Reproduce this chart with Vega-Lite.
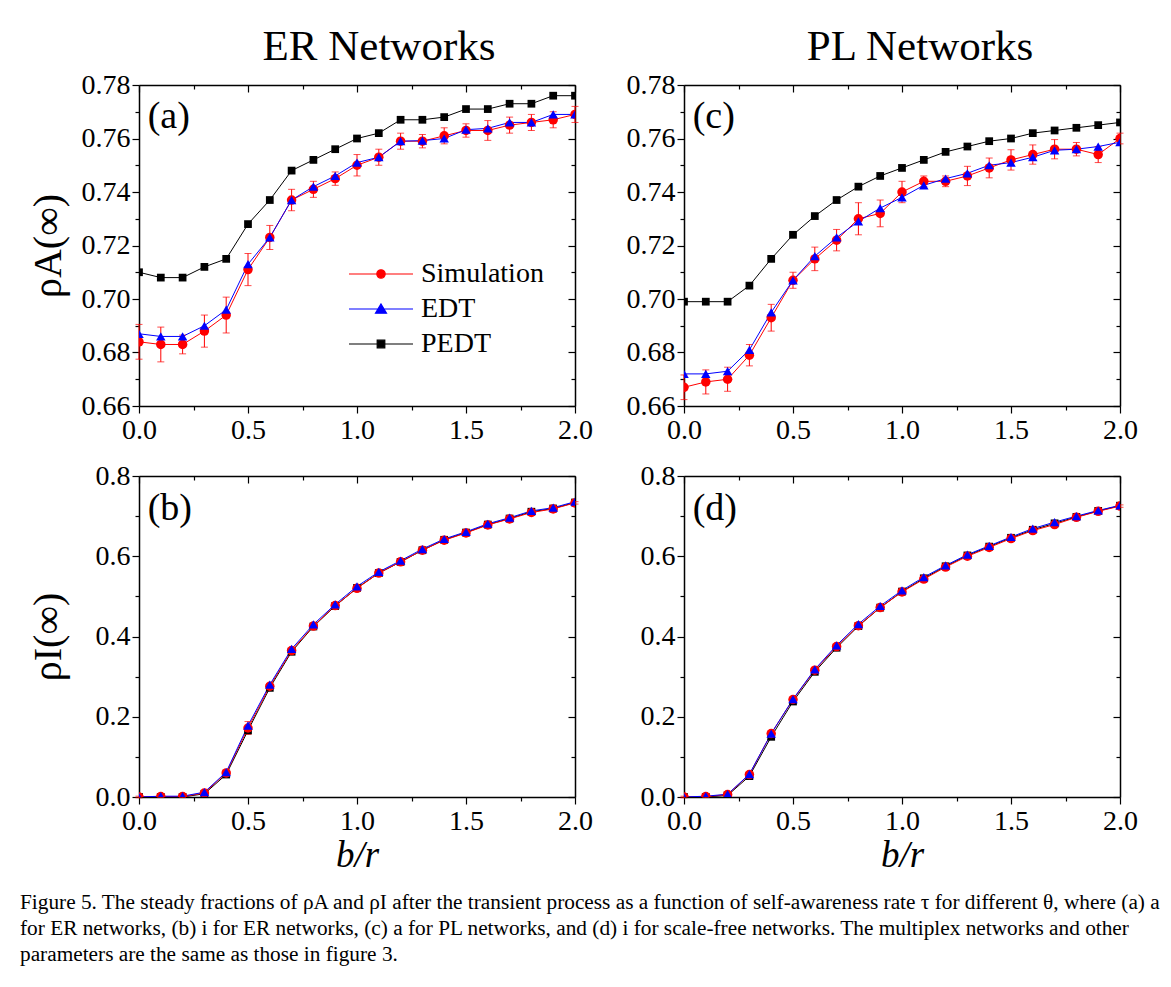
{
"$schema": "https://vega.github.io/schema/vega-lite/v6.json",
"background": "white",
"padding": {"left": 20, "top": 26, "right": 10, "bottom": 10},
"config": {
  "font": "Liberation Serif",
  "view": {"stroke": null},
  "axis": {"grid": false, "domainColor": "black", "domainWidth": 1.5, "tickColor": "black", "tickWidth": 1.2, "labelFont": "Liberation Serif", "labelFontSize": 28, "labelColor": "black", "titleFont": "Liberation Serif", "titleColor": "black", "titleFontWeight": "normal", "labelOverlap": false, "labelFlush": false, "labelBound": false},
  "title": {"font": "Liberation Serif", "color": "black", "fontWeight": "normal"}
},
"title": {"text": ["Figure 5. The steady fractions of ρA and ρI after the transient process as a function of self-awareness rate τ for different θ, where (a) a", "for ER networks, (b) i for ER networks, (c) a for PL networks, and (d) i for scale-free networks. The multiplex networks and other", "parameters are the same as those in figure 3."], "orient": "bottom", "anchor": "start", "fontSize": 21.3, "lineHeight": 26, "offset": 19, "dx": -8},
"datasets": {"d": [
{"p":"a","s":"PEDT","x":0,"y":0.710},{"p":"a","s":"PEDT","x":0.1,"y":0.708},{"p":"a","s":"PEDT","x":0.2,"y":0.708},{"p":"a","s":"PEDT","x":0.3,"y":0.712},{"p":"a","s":"PEDT","x":0.4,"y":0.715},{"p":"a","s":"PEDT","x":0.5,"y":0.728},{"p":"a","s":"PEDT","x":0.6,"y":0.737},{"p":"a","s":"PEDT","x":0.7,"y":0.748},{"p":"a","s":"PEDT","x":0.8,"y":0.752},{"p":"a","s":"PEDT","x":0.9,"y":0.756},{"p":"a","s":"PEDT","x":1.0,"y":0.760},{"p":"a","s":"PEDT","x":1.1,"y":0.762},{"p":"a","s":"PEDT","x":1.2,"y":0.767},{"p":"a","s":"PEDT","x":1.3,"y":0.767},{"p":"a","s":"PEDT","x":1.4,"y":0.768},{"p":"a","s":"PEDT","x":1.5,"y":0.771},{"p":"a","s":"PEDT","x":1.6,"y":0.771},{"p":"a","s":"PEDT","x":1.7,"y":0.773},{"p":"a","s":"PEDT","x":1.8,"y":0.773},{"p":"a","s":"PEDT","x":1.9,"y":0.776},{"p":"a","s":"PEDT","x":2.0,"y":0.776},
{"p":"a","s":"Simulation","x":0,"y":0.684,"e":0.0065},{"p":"a","s":"Simulation","x":0.1,"y":0.683,"e":0.0065},{"p":"a","s":"Simulation","x":0.2,"y":0.683,"e":0.0035},{"p":"a","s":"Simulation","x":0.3,"y":0.688,"e":0.006},{"p":"a","s":"Simulation","x":0.4,"y":0.694,"e":0.0067},{"p":"a","s":"Simulation","x":0.5,"y":0.711,"e":0.006},{"p":"a","s":"Simulation","x":0.6,"y":0.723,"e":0.0045},{"p":"a","s":"Simulation","x":0.7,"y":0.737,"e":0.004},{"p":"a","s":"Simulation","x":0.8,"y":0.741,"e":0.003},{"p":"a","s":"Simulation","x":0.9,"y":0.745,"e":0.0025},{"p":"a","s":"Simulation","x":1.0,"y":0.750,"e":0.004},{"p":"a","s":"Simulation","x":1.1,"y":0.753,"e":0.003},{"p":"a","s":"Simulation","x":1.2,"y":0.759,"e":0.003},{"p":"a","s":"Simulation","x":1.3,"y":0.759,"e":0.0025},{"p":"a","s":"Simulation","x":1.4,"y":0.761,"e":0.003},{"p":"a","s":"Simulation","x":1.5,"y":0.763,"e":0.0025},{"p":"a","s":"Simulation","x":1.6,"y":0.763,"e":0.0037},{"p":"a","s":"Simulation","x":1.7,"y":0.765,"e":0.003},{"p":"a","s":"Simulation","x":1.8,"y":0.766,"e":0.003},{"p":"a","s":"Simulation","x":1.9,"y":0.767,"e":0.003},{"p":"a","s":"Simulation","x":2.0,"y":0.769,"e":0.003},
{"p":"a","s":"EDT","x":0,"y":0.687},{"p":"a","s":"EDT","x":0.1,"y":0.686},{"p":"a","s":"EDT","x":0.2,"y":0.686},{"p":"a","s":"EDT","x":0.3,"y":0.690},{"p":"a","s":"EDT","x":0.4,"y":0.696},{"p":"a","s":"EDT","x":0.5,"y":0.713},{"p":"a","s":"EDT","x":0.6,"y":0.723},{"p":"a","s":"EDT","x":0.7,"y":0.737},{"p":"a","s":"EDT","x":0.8,"y":0.742},{"p":"a","s":"EDT","x":0.9,"y":0.746},{"p":"a","s":"EDT","x":1.0,"y":0.751},{"p":"a","s":"EDT","x":1.1,"y":0.753},{"p":"a","s":"EDT","x":1.2,"y":0.759},{"p":"a","s":"EDT","x":1.3,"y":0.7592},{"p":"a","s":"EDT","x":1.4,"y":0.760},{"p":"a","s":"EDT","x":1.5,"y":0.7633},{"p":"a","s":"EDT","x":1.6,"y":0.7638},{"p":"a","s":"EDT","x":1.7,"y":0.766},{"p":"a","s":"EDT","x":1.8,"y":0.766},{"p":"a","s":"EDT","x":1.9,"y":0.769},{"p":"a","s":"EDT","x":2.0,"y":0.769},
{"p":"c","s":"PEDT","x":0,"y":0.699},{"p":"c","s":"PEDT","x":0.1,"y":0.699},{"p":"c","s":"PEDT","x":0.2,"y":0.699},{"p":"c","s":"PEDT","x":0.3,"y":0.705},{"p":"c","s":"PEDT","x":0.4,"y":0.715},{"p":"c","s":"PEDT","x":0.5,"y":0.724},{"p":"c","s":"PEDT","x":0.6,"y":0.731},{"p":"c","s":"PEDT","x":0.7,"y":0.737},{"p":"c","s":"PEDT","x":0.8,"y":0.742},{"p":"c","s":"PEDT","x":0.9,"y":0.746},{"p":"c","s":"PEDT","x":1.0,"y":0.749},{"p":"c","s":"PEDT","x":1.1,"y":0.752},{"p":"c","s":"PEDT","x":1.2,"y":0.755},{"p":"c","s":"PEDT","x":1.3,"y":0.757},{"p":"c","s":"PEDT","x":1.4,"y":0.759},{"p":"c","s":"PEDT","x":1.5,"y":0.760},{"p":"c","s":"PEDT","x":1.6,"y":0.762},{"p":"c","s":"PEDT","x":1.7,"y":0.763},{"p":"c","s":"PEDT","x":1.8,"y":0.764},{"p":"c","s":"PEDT","x":1.9,"y":0.765},{"p":"c","s":"PEDT","x":2.0,"y":0.766},
{"p":"c","s":"Simulation","x":0,"y":0.667,"e":0.0046},{"p":"c","s":"Simulation","x":0.1,"y":0.669,"e":0.0045},{"p":"c","s":"Simulation","x":0.2,"y":0.670,"e":0.0045},{"p":"c","s":"Simulation","x":0.3,"y":0.679,"e":0.004},{"p":"c","s":"Simulation","x":0.4,"y":0.693,"e":0.005},{"p":"c","s":"Simulation","x":0.5,"y":0.707,"e":0.003},{"p":"c","s":"Simulation","x":0.6,"y":0.715,"e":0.0044},{"p":"c","s":"Simulation","x":0.7,"y":0.722,"e":0.004},{"p":"c","s":"Simulation","x":0.8,"y":0.730,"e":0.006},{"p":"c","s":"Simulation","x":0.9,"y":0.732,"e":0.005},{"p":"c","s":"Simulation","x":1.0,"y":0.740,"e":0.004},{"p":"c","s":"Simulation","x":1.1,"y":0.744,"e":0.002},{"p":"c","s":"Simulation","x":1.2,"y":0.744,"e":0.002},{"p":"c","s":"Simulation","x":1.3,"y":0.746,"e":0.0036},{"p":"c","s":"Simulation","x":1.4,"y":0.749,"e":0.0037},{"p":"c","s":"Simulation","x":1.5,"y":0.752,"e":0.0038},{"p":"c","s":"Simulation","x":1.6,"y":0.754,"e":0.0036},{"p":"c","s":"Simulation","x":1.7,"y":0.756,"e":0.0036},{"p":"c","s":"Simulation","x":1.8,"y":0.756,"e":0.0025},{"p":"c","s":"Simulation","x":1.9,"y":0.754,"e":0.003},{"p":"c","s":"Simulation","x":2.0,"y":0.760,"e":0.002},
{"p":"c","s":"EDT","x":0,"y":0.672},{"p":"c","s":"EDT","x":0.1,"y":0.672},{"p":"c","s":"EDT","x":0.2,"y":0.673},{"p":"c","s":"EDT","x":0.3,"y":0.681},{"p":"c","s":"EDT","x":0.4,"y":0.695},{"p":"c","s":"EDT","x":0.5,"y":0.707},{"p":"c","s":"EDT","x":0.6,"y":0.716},{"p":"c","s":"EDT","x":0.7,"y":0.723},{"p":"c","s":"EDT","x":0.8,"y":0.729},{"p":"c","s":"EDT","x":0.9,"y":0.734},{"p":"c","s":"EDT","x":1.0,"y":0.738},{"p":"c","s":"EDT","x":1.1,"y":0.7425},{"p":"c","s":"EDT","x":1.2,"y":0.745},{"p":"c","s":"EDT","x":1.3,"y":0.747},{"p":"c","s":"EDT","x":1.4,"y":0.750},{"p":"c","s":"EDT","x":1.5,"y":0.751},{"p":"c","s":"EDT","x":1.6,"y":0.753},{"p":"c","s":"EDT","x":1.7,"y":0.7556},{"p":"c","s":"EDT","x":1.8,"y":0.756},{"p":"c","s":"EDT","x":1.9,"y":0.757},{"p":"c","s":"EDT","x":2.0,"y":0.7586},
{"p":"b","s":"PEDT","x":0,"y":0},{"p":"b","s":"PEDT","x":0.1,"y":0},{"p":"b","s":"PEDT","x":0.2,"y":0},{"p":"b","s":"PEDT","x":0.3,"y":0.008},{"p":"b","s":"PEDT","x":0.4,"y":0.056},{"p":"b","s":"PEDT","x":0.5,"y":0.166},{"p":"b","s":"PEDT","x":0.6,"y":0.272},{"p":"b","s":"PEDT","x":0.7,"y":0.362},{"p":"b","s":"PEDT","x":0.8,"y":0.425},{"p":"b","s":"PEDT","x":0.9,"y":0.476},{"p":"b","s":"PEDT","x":1.0,"y":0.521},{"p":"b","s":"PEDT","x":1.1,"y":0.558},{"p":"b","s":"PEDT","x":1.2,"y":0.586},{"p":"b","s":"PEDT","x":1.3,"y":0.615},{"p":"b","s":"PEDT","x":1.4,"y":0.641},{"p":"b","s":"PEDT","x":1.5,"y":0.659},{"p":"b","s":"PEDT","x":1.6,"y":0.679},{"p":"b","s":"PEDT","x":1.7,"y":0.694},{"p":"b","s":"PEDT","x":1.8,"y":0.711},{"p":"b","s":"PEDT","x":1.9,"y":0.719},{"p":"b","s":"PEDT","x":2.0,"y":0.734},
{"p":"b","s":"Simulation","x":0,"y":0.0,"e":0.002},{"p":"b","s":"Simulation","x":0.1,"y":0.001,"e":0.002},{"p":"b","s":"Simulation","x":0.2,"y":0.001,"e":0.002},{"p":"b","s":"Simulation","x":0.3,"y":0.010,"e":0.004},{"p":"b","s":"Simulation","x":0.4,"y":0.060,"e":0.007},{"p":"b","s":"Simulation","x":0.5,"y":0.172,"e":0.016},{"p":"b","s":"Simulation","x":0.6,"y":0.276,"e":0.007},{"p":"b","s":"Simulation","x":0.7,"y":0.365,"e":0.004},{"p":"b","s":"Simulation","x":0.8,"y":0.426,"e":0.003},{"p":"b","s":"Simulation","x":0.9,"y":0.477,"e":0.003},{"p":"b","s":"Simulation","x":1.0,"y":0.520,"e":0.003},{"p":"b","s":"Simulation","x":1.1,"y":0.558,"e":0.003},{"p":"b","s":"Simulation","x":1.2,"y":0.586,"e":0.003},{"p":"b","s":"Simulation","x":1.3,"y":0.615,"e":0.003},{"p":"b","s":"Simulation","x":1.4,"y":0.640,"e":0.003},{"p":"b","s":"Simulation","x":1.5,"y":0.658,"e":0.003},{"p":"b","s":"Simulation","x":1.6,"y":0.678,"e":0.003},{"p":"b","s":"Simulation","x":1.7,"y":0.693,"e":0.003},{"p":"b","s":"Simulation","x":1.8,"y":0.709,"e":0.003},{"p":"b","s":"Simulation","x":1.9,"y":0.718,"e":0.003},{"p":"b","s":"Simulation","x":2.0,"y":0.733,"e":0.003},
{"p":"b","s":"EDT","x":0,"y":0.0},{"p":"b","s":"EDT","x":0.1,"y":0.002},{"p":"b","s":"EDT","x":0.2,"y":0.002},{"p":"b","s":"EDT","x":0.3,"y":0.012},{"p":"b","s":"EDT","x":0.4,"y":0.062},{"p":"b","s":"EDT","x":0.5,"y":0.178},{"p":"b","s":"EDT","x":0.6,"y":0.280},{"p":"b","s":"EDT","x":0.7,"y":0.369},{"p":"b","s":"EDT","x":0.8,"y":0.430},{"p":"b","s":"EDT","x":0.9,"y":0.480},{"p":"b","s":"EDT","x":1.0,"y":0.525},{"p":"b","s":"EDT","x":1.1,"y":0.561},{"p":"b","s":"EDT","x":1.2,"y":0.589},{"p":"b","s":"EDT","x":1.3,"y":0.618},{"p":"b","s":"EDT","x":1.4,"y":0.643},{"p":"b","s":"EDT","x":1.5,"y":0.661},{"p":"b","s":"EDT","x":1.6,"y":0.681},{"p":"b","s":"EDT","x":1.7,"y":0.696},{"p":"b","s":"EDT","x":1.8,"y":0.713},{"p":"b","s":"EDT","x":1.9,"y":0.721},{"p":"b","s":"EDT","x":2.0,"y":0.736},
{"p":"d","s":"PEDT","x":0,"y":0},{"p":"d","s":"PEDT","x":0.1,"y":0},{"p":"d","s":"PEDT","x":0.2,"y":0.004},{"p":"d","s":"PEDT","x":0.3,"y":0.052},{"p":"d","s":"PEDT","x":0.4,"y":0.150},{"p":"d","s":"PEDT","x":0.5,"y":0.238},{"p":"d","s":"PEDT","x":0.6,"y":0.312},{"p":"d","s":"PEDT","x":0.7,"y":0.372},{"p":"d","s":"PEDT","x":0.8,"y":0.426},{"p":"d","s":"PEDT","x":0.9,"y":0.472},{"p":"d","s":"PEDT","x":1.0,"y":0.512},{"p":"d","s":"PEDT","x":1.1,"y":0.545},{"p":"d","s":"PEDT","x":1.2,"y":0.575},{"p":"d","s":"PEDT","x":1.3,"y":0.602},{"p":"d","s":"PEDT","x":1.4,"y":0.624},{"p":"d","s":"PEDT","x":1.5,"y":0.646},{"p":"d","s":"PEDT","x":1.6,"y":0.666},{"p":"d","s":"PEDT","x":1.7,"y":0.682},{"p":"d","s":"PEDT","x":1.8,"y":0.698},{"p":"d","s":"PEDT","x":1.9,"y":0.713},{"p":"d","s":"PEDT","x":2.0,"y":0.726},
{"p":"d","s":"Simulation","x":0,"y":0.0,"e":0.002},{"p":"d","s":"Simulation","x":0.1,"y":0.001,"e":0.002},{"p":"d","s":"Simulation","x":0.2,"y":0.006,"e":0.004},{"p":"d","s":"Simulation","x":0.3,"y":0.056,"e":0.004},{"p":"d","s":"Simulation","x":0.4,"y":0.158,"e":0.004},{"p":"d","s":"Simulation","x":0.5,"y":0.243,"e":0.004},{"p":"d","s":"Simulation","x":0.6,"y":0.316,"e":0.004},{"p":"d","s":"Simulation","x":0.7,"y":0.375,"e":0.004},{"p":"d","s":"Simulation","x":0.8,"y":0.427,"e":0.003},{"p":"d","s":"Simulation","x":0.9,"y":0.472,"e":0.003},{"p":"d","s":"Simulation","x":1.0,"y":0.511,"e":0.003},{"p":"d","s":"Simulation","x":1.1,"y":0.543,"e":0.003},{"p":"d","s":"Simulation","x":1.2,"y":0.573,"e":0.003},{"p":"d","s":"Simulation","x":1.3,"y":0.600,"e":0.003},{"p":"d","s":"Simulation","x":1.4,"y":0.622,"e":0.003},{"p":"d","s":"Simulation","x":1.5,"y":0.644,"e":0.003},{"p":"d","s":"Simulation","x":1.6,"y":0.664,"e":0.003},{"p":"d","s":"Simulation","x":1.7,"y":0.679,"e":0.003},{"p":"d","s":"Simulation","x":1.8,"y":0.697,"e":0.003},{"p":"d","s":"Simulation","x":1.9,"y":0.712,"e":0.003},{"p":"d","s":"Simulation","x":2.0,"y":0.725,"e":0.003},
{"p":"d","s":"EDT","x":0,"y":0.0},{"p":"d","s":"EDT","x":0.1,"y":0.002},{"p":"d","s":"EDT","x":0.2,"y":0.007},{"p":"d","s":"EDT","x":0.3,"y":0.057},{"p":"d","s":"EDT","x":0.4,"y":0.158},{"p":"d","s":"EDT","x":0.5,"y":0.244},{"p":"d","s":"EDT","x":0.6,"y":0.318},{"p":"d","s":"EDT","x":0.7,"y":0.378},{"p":"d","s":"EDT","x":0.8,"y":0.431},{"p":"d","s":"EDT","x":0.9,"y":0.476},{"p":"d","s":"EDT","x":1.0,"y":0.515},{"p":"d","s":"EDT","x":1.1,"y":0.548},{"p":"d","s":"EDT","x":1.2,"y":0.577},{"p":"d","s":"EDT","x":1.3,"y":0.604},{"p":"d","s":"EDT","x":1.4,"y":0.626},{"p":"d","s":"EDT","x":1.5,"y":0.648},{"p":"d","s":"EDT","x":1.6,"y":0.669},{"p":"d","s":"EDT","x":1.7,"y":0.685},{"p":"d","s":"EDT","x":1.8,"y":0.700},{"p":"d","s":"EDT","x":1.9,"y":0.714},{"p":"d","s":"EDT","x":2.0,"y":0.727}
]},
"data": {"name": "d"},
"columns": 2,
"spacing": {"row": 70, "column": 109},
"bounds": "flush",
"resolve": {"scale": {"color": "independent", "shape": "independent", "x": "independent", "y": "independent"}},
"concat": [
{
  "width": 436, "height": 321,
  "title": {"text": "ER Networks", "fontSize": 43, "offset": 2, "dx": 22},
  "transform": [{"filter": "datum.p === 'a'"}],
  "layer": [
    {"mark": {"type": "line", "strokeWidth": 1, "clip": true},
     "encoding": {
       "x": {"field": "x", "type": "quantitative", "scale": {"domain": [0, 2], "nice": false}, "axis": {"values": [0,0.25,0.5,0.75,1,1.25,1.5,1.75,2], "format": ".1f", "labelExpr": "abs(datum.value*2-round(datum.value*2))<0.001 ? datum.label : ''", "tickSize": {"condition": {"test": "abs(datum.value*2-round(datum.value*2))<0.001", "value": 7}, "value": 4}, "labelPadding": 3, "title": null}},
       "y": {"field": "y", "type": "quantitative", "scale": {"domain": [0.66, 0.78], "nice": false, "zero": false}, "axis": {"values": [0.66,0.67,0.68,0.69,0.70,0.71,0.72,0.73,0.74,0.75,0.76,0.77,0.78], "format": ".2f", "labelExpr": "round(datum.value*100)%2===0 ? datum.label : ''", "tickSize": {"condition": {"test": "round(datum.value*100)%2===0", "value": 7}, "value": 4}, "labelPadding": 2, "title": "ρA(∞)", "titleFontSize": 40, "titlePadding": 13}},
       "color": {"field": "s", "type": "nominal", "scale": {"domain": ["PEDT", "Simulation", "EDT"], "range": ["black", "red", "blue"]}, "legend": null}
     }},
    {"transform": [{"filter": "datum.s === 'Simulation'"}],
     "mark": {"type": "errorbar", "color": "red", "thickness": 1, "ticks": {"size": 7, "thickness": 1}},
     "encoding": {"x": {"field": "x", "type": "quantitative", "axis": null}, "y": {"field": "y", "type": "quantitative", "axis": null}, "yError": {"field": "e"}}},
    {"transform": [{"filter": "datum.s === 'PEDT'"}],
     "mark": {"type": "point", "shape": "square", "filled": true, "opacity": 1, "color": "black", "size": 60, "clip": true},
     "encoding": {"x": {"field": "x", "type": "quantitative", "axis": null}, "y": {"field": "y", "type": "quantitative", "axis": null}}},
    {"transform": [{"filter": "datum.s === 'Simulation'"}],
     "mark": {"type": "point", "shape": "circle", "filled": true, "opacity": 1, "color": "red", "size": 90, "clip": true},
     "encoding": {"x": {"field": "x", "type": "quantitative", "axis": null}, "y": {"field": "y", "type": "quantitative", "axis": null}}},
    {"transform": [{"filter": "datum.s === 'EDT'"}],
     "mark": {"type": "point", "shape": "triangle-up", "filled": true, "opacity": 1, "color": "blue", "size": 90, "clip": true},
     "encoding": {"x": {"field": "x", "type": "quantitative", "axis": null}, "y": {"field": "y", "type": "quantitative", "axis": null}}},
    {"transform": [{"filter": "datum.x < 0"}],
     "mark": {"type": "point", "filled": true, "opacity": 1, "strokeWidth": 1.2,
       "color": {"expr": "datum.value === 'Simulation' ? 'red' : datum.value === 'EDT' ? 'blue' : 'black'"},
       "fill": {"expr": "datum.value === 'Simulation' ? 'red' : datum.value === 'EDT' ? 'blue' : 'black'"},
       "stroke": {"expr": "datum.value === 'Simulation' ? 'red' : datum.value === 'EDT' ? 'blue' : 'black'"}},
     "encoding": {
       "x": {"field": "x", "type": "quantitative", "axis": null},
       "y": {"field": "y", "type": "quantitative", "axis": null},
       "shape": {"field": "s", "type": "nominal", "scale": {"domain": ["Simulation", "EDT", "PEDT"], "range": ["M-3.2,0L3.2,0M-0.42,0A0.42,0.42,0,1,0,0.42,0A0.42,0.42,0,1,0,-0.42,0Z", "M-3.2,0L3.2,0M0,-0.5L0.55,0.42L-0.55,0.42Z", "M-3.2,0L3.2,0M-0.38,-0.38L0.38,-0.38L0.38,0.38L-0.38,0.38Z"]},
         "legend": {"orient": "none", "legendX": 228, "legendY": 175, "title": null, "padding": 0, "symbolSize": 400, "labelFontSize": 28, "labelFont": "Liberation Serif", "labelColor": "black", "labelOffset": 26, "rowPadding": 7, "symbolStrokeWidth": 1.2, "symbolOpacity": 1}}
     }},
    {"transform": [{"filter": "datum.x === 0 && datum.s === 'PEDT'"}],
     "mark": {"type": "text", "align": "left", "baseline": "middle", "fontSize": 38, "font": "Liberation Serif", "color": "black"},
     "encoding": {"x": {"datum": 0.04, "type": "quantitative", "axis": null}, "y": {"datum": 0.768, "type": "quantitative", "axis": null}, "text": {"value": "(a)"}}},
    {"transform": [{"filter": "datum.x === 0 && datum.s === 'PEDT'"}],
     "mark": {"type": "point", "opacity": 0},
     "encoding": {
       "x": {"field": "x", "type": "quantitative", "axis": {"orient": "top", "values": [0,0.25,0.5,0.75,1,1.25,1.5,1.75,2], "labels": false, "tickSize": {"condition": {"test": "abs(datum.value*2-round(datum.value*2))<0.001", "value": -7}, "value": -4}, "title": null}},
       "y": {"field": "y", "type": "quantitative", "axis": {"orient": "right", "values": [0.66,0.67,0.68,0.69,0.70,0.71,0.72,0.73,0.74,0.75,0.76,0.77,0.78], "labels": false, "tickSize": {"condition": {"test": "round(datum.value*100)%2===0", "value": -7}, "value": -4}, "title": null}}
     }}
  ],
  "resolve": {"axis": {"x": "independent", "y": "independent"}}
},
{
  "width": 436, "height": 321,
  "title": {"text": "PL Networks", "fontSize": 43, "offset": 2, "dx": 18},
  "transform": [{"filter": "datum.p === 'c'"}],
  "layer": [
    {"mark": {"type": "line", "strokeWidth": 1, "clip": true},
     "encoding": {
       "x": {"field": "x", "type": "quantitative", "scale": {"domain": [0, 2], "nice": false}, "axis": {"values": [0,0.25,0.5,0.75,1,1.25,1.5,1.75,2], "format": ".1f", "labelExpr": "abs(datum.value*2-round(datum.value*2))<0.001 ? datum.label : ''", "tickSize": {"condition": {"test": "abs(datum.value*2-round(datum.value*2))<0.001", "value": 7}, "value": 4}, "labelPadding": 3, "title": null}},
       "y": {"field": "y", "type": "quantitative", "scale": {"domain": [0.66, 0.78], "nice": false, "zero": false}, "axis": {"values": [0.66,0.67,0.68,0.69,0.70,0.71,0.72,0.73,0.74,0.75,0.76,0.77,0.78], "format": ".2f", "labelExpr": "round(datum.value*100)%2===0 ? datum.label : ''", "tickSize": {"condition": {"test": "round(datum.value*100)%2===0", "value": 7}, "value": 4}, "labelPadding": 2, "title": null}},
       "color": {"field": "s", "type": "nominal", "scale": {"domain": ["PEDT", "Simulation", "EDT"], "range": ["black", "red", "blue"]}, "legend": null}
     }},
    {"transform": [{"filter": "datum.s === 'Simulation'"}],
     "mark": {"type": "errorbar", "color": "red", "thickness": 1, "ticks": {"size": 7, "thickness": 1}},
     "encoding": {"x": {"field": "x", "type": "quantitative", "axis": null}, "y": {"field": "y", "type": "quantitative", "axis": null}, "yError": {"field": "e"}}},
    {"transform": [{"filter": "datum.s === 'PEDT'"}],
     "mark": {"type": "point", "shape": "square", "filled": true, "opacity": 1, "color": "black", "size": 60, "clip": true},
     "encoding": {"x": {"field": "x", "type": "quantitative", "axis": null}, "y": {"field": "y", "type": "quantitative", "axis": null}}},
    {"transform": [{"filter": "datum.s === 'Simulation'"}],
     "mark": {"type": "point", "shape": "circle", "filled": true, "opacity": 1, "color": "red", "size": 90, "clip": true},
     "encoding": {"x": {"field": "x", "type": "quantitative", "axis": null}, "y": {"field": "y", "type": "quantitative", "axis": null}}},
    {"transform": [{"filter": "datum.s === 'EDT'"}],
     "mark": {"type": "point", "shape": "triangle-up", "filled": true, "opacity": 1, "color": "blue", "size": 90, "clip": true},
     "encoding": {"x": {"field": "x", "type": "quantitative", "axis": null}, "y": {"field": "y", "type": "quantitative", "axis": null}}},
    {"transform": [{"filter": "datum.x === 0 && datum.s === 'PEDT'"}],
     "mark": {"type": "text", "align": "left", "baseline": "middle", "fontSize": 38, "font": "Liberation Serif", "color": "black"},
     "encoding": {"x": {"datum": 0.04, "type": "quantitative", "axis": null}, "y": {"datum": 0.768, "type": "quantitative", "axis": null}, "text": {"value": "(c)"}}},
    {"transform": [{"filter": "datum.x === 0 && datum.s === 'PEDT'"}],
     "mark": {"type": "point", "opacity": 0},
     "encoding": {
       "x": {"field": "x", "type": "quantitative", "axis": {"orient": "top", "values": [0,0.25,0.5,0.75,1,1.25,1.5,1.75,2], "labels": false, "tickSize": {"condition": {"test": "abs(datum.value*2-round(datum.value*2))<0.001", "value": -7}, "value": -4}, "title": null}},
       "y": {"field": "y", "type": "quantitative", "axis": {"orient": "right", "values": [0.66,0.67,0.68,0.69,0.70,0.71,0.72,0.73,0.74,0.75,0.76,0.77,0.78], "labels": false, "tickSize": {"condition": {"test": "round(datum.value*100)%2===0", "value": -7}, "value": -4}, "title": null}}
     }}
  ],
  "resolve": {"axis": {"x": "independent", "y": "independent"}}
},
{
  "width": 436, "height": 321,
  "transform": [{"filter": "datum.p === 'b'"}],
  "layer": [
    {"mark": {"type": "line", "strokeWidth": 1, "clip": true},
     "encoding": {
       "x": {"field": "x", "type": "quantitative", "scale": {"domain": [0, 2], "nice": false}, "axis": {"values": [0,0.25,0.5,0.75,1,1.25,1.5,1.75,2], "format": ".1f", "labelExpr": "abs(datum.value*2-round(datum.value*2))<0.001 ? datum.label : ''", "tickSize": {"condition": {"test": "abs(datum.value*2-round(datum.value*2))<0.001", "value": 7}, "value": 4}, "labelPadding": 3, "title": "b/r", "titleFontSize": 37, "titleFontStyle": "italic", "titlePadding": 2}},
       "y": {"field": "y", "type": "quantitative", "scale": {"domain": [0, 0.8], "nice": false}, "axis": {"values": [0,0.1,0.2,0.3,0.4,0.5,0.6,0.7,0.8], "format": ".1f", "labelExpr": "round(datum.value*10)%2===0 ? datum.label : ''", "tickSize": {"condition": {"test": "round(datum.value*10)%2===0", "value": 7}, "value": 4}, "labelPadding": 2, "title": "ρI(∞)", "titleFontSize": 40, "titlePadding": 27}},
       "color": {"field": "s", "type": "nominal", "scale": {"domain": ["PEDT", "Simulation", "EDT"], "range": ["black", "red", "blue"]}, "legend": null}
     }},
    {"transform": [{"filter": "datum.s === 'Simulation'"}],
     "mark": {"type": "errorbar", "color": "red", "thickness": 1, "ticks": {"size": 7, "thickness": 1}},
     "encoding": {"x": {"field": "x", "type": "quantitative", "axis": null}, "y": {"field": "y", "type": "quantitative", "axis": null}, "yError": {"field": "e"}}},
    {"transform": [{"filter": "datum.s === 'PEDT'"}],
     "mark": {"type": "point", "shape": "square", "filled": true, "opacity": 1, "color": "black", "size": 60, "clip": true},
     "encoding": {"x": {"field": "x", "type": "quantitative", "axis": null}, "y": {"field": "y", "type": "quantitative", "axis": null}}},
    {"transform": [{"filter": "datum.s === 'Simulation'"}],
     "mark": {"type": "point", "shape": "circle", "filled": true, "opacity": 1, "color": "red", "size": 90, "clip": true},
     "encoding": {"x": {"field": "x", "type": "quantitative", "axis": null}, "y": {"field": "y", "type": "quantitative", "axis": null}}},
    {"transform": [{"filter": "datum.s === 'EDT'"}],
     "mark": {"type": "point", "shape": "triangle-up", "filled": true, "opacity": 1, "color": "blue", "size": 90, "clip": true},
     "encoding": {"x": {"field": "x", "type": "quantitative", "axis": null}, "y": {"field": "y", "type": "quantitative", "axis": null}}},
    {"transform": [{"filter": "datum.x === 0 && datum.s === 'PEDT'"}],
     "mark": {"type": "text", "align": "left", "baseline": "middle", "fontSize": 38, "font": "Liberation Serif", "color": "black"},
     "encoding": {"x": {"datum": 0.04, "type": "quantitative", "axis": null}, "y": {"datum": 0.718, "type": "quantitative", "axis": null}, "text": {"value": "(b)"}}},
    {"transform": [{"filter": "datum.x === 0 && datum.s === 'PEDT'"}],
     "mark": {"type": "point", "opacity": 0},
     "encoding": {
       "x": {"field": "x", "type": "quantitative", "axis": {"orient": "top", "values": [0,0.25,0.5,0.75,1,1.25,1.5,1.75,2], "labels": false, "tickSize": {"condition": {"test": "abs(datum.value*2-round(datum.value*2))<0.001", "value": -7}, "value": -4}, "title": null}},
       "y": {"field": "y", "type": "quantitative", "axis": {"orient": "right", "values": [0,0.1,0.2,0.3,0.4,0.5,0.6,0.7,0.8], "labels": false, "tickSize": {"condition": {"test": "round(datum.value*10)%2===0", "value": -7}, "value": -4}, "title": null}}
     }}
  ],
  "resolve": {"axis": {"x": "independent", "y": "independent"}}
},
{
  "width": 436, "height": 321,
  "transform": [{"filter": "datum.p === 'd'"}],
  "layer": [
    {"mark": {"type": "line", "strokeWidth": 1, "clip": true},
     "encoding": {
       "x": {"field": "x", "type": "quantitative", "scale": {"domain": [0, 2], "nice": false}, "axis": {"values": [0,0.25,0.5,0.75,1,1.25,1.5,1.75,2], "format": ".1f", "labelExpr": "abs(datum.value*2-round(datum.value*2))<0.001 ? datum.label : ''", "tickSize": {"condition": {"test": "abs(datum.value*2-round(datum.value*2))<0.001", "value": 7}, "value": 4}, "labelPadding": 3, "title": "b/r", "titleFontSize": 37, "titleFontStyle": "italic", "titlePadding": 2}},
       "y": {"field": "y", "type": "quantitative", "scale": {"domain": [0, 0.8], "nice": false}, "axis": {"values": [0,0.1,0.2,0.3,0.4,0.5,0.6,0.7,0.8], "format": ".1f", "labelExpr": "round(datum.value*10)%2===0 ? datum.label : ''", "tickSize": {"condition": {"test": "round(datum.value*10)%2===0", "value": 7}, "value": 4}, "labelPadding": 2, "title": null}},
       "color": {"field": "s", "type": "nominal", "scale": {"domain": ["PEDT", "Simulation", "EDT"], "range": ["black", "red", "blue"]}, "legend": null}
     }},
    {"transform": [{"filter": "datum.s === 'Simulation'"}],
     "mark": {"type": "errorbar", "color": "red", "thickness": 1, "ticks": {"size": 7, "thickness": 1}},
     "encoding": {"x": {"field": "x", "type": "quantitative", "axis": null}, "y": {"field": "y", "type": "quantitative", "axis": null}, "yError": {"field": "e"}}},
    {"transform": [{"filter": "datum.s === 'PEDT'"}],
     "mark": {"type": "point", "shape": "square", "filled": true, "opacity": 1, "color": "black", "size": 60, "clip": true},
     "encoding": {"x": {"field": "x", "type": "quantitative", "axis": null}, "y": {"field": "y", "type": "quantitative", "axis": null}}},
    {"transform": [{"filter": "datum.s === 'Simulation'"}],
     "mark": {"type": "point", "shape": "circle", "filled": true, "opacity": 1, "color": "red", "size": 90, "clip": true},
     "encoding": {"x": {"field": "x", "type": "quantitative", "axis": null}, "y": {"field": "y", "type": "quantitative", "axis": null}}},
    {"transform": [{"filter": "datum.s === 'EDT'"}],
     "mark": {"type": "point", "shape": "triangle-up", "filled": true, "opacity": 1, "color": "blue", "size": 90, "clip": true},
     "encoding": {"x": {"field": "x", "type": "quantitative", "axis": null}, "y": {"field": "y", "type": "quantitative", "axis": null}}},
    {"transform": [{"filter": "datum.x === 0 && datum.s === 'PEDT'"}],
     "mark": {"type": "text", "align": "left", "baseline": "middle", "fontSize": 38, "font": "Liberation Serif", "color": "black"},
     "encoding": {"x": {"datum": 0.04, "type": "quantitative", "axis": null}, "y": {"datum": 0.718, "type": "quantitative", "axis": null}, "text": {"value": "(d)"}}},
    {"transform": [{"filter": "datum.x === 0 && datum.s === 'PEDT'"}],
     "mark": {"type": "point", "opacity": 0},
     "encoding": {
       "x": {"field": "x", "type": "quantitative", "axis": {"orient": "top", "values": [0,0.25,0.5,0.75,1,1.25,1.5,1.75,2], "labels": false, "tickSize": {"condition": {"test": "abs(datum.value*2-round(datum.value*2))<0.001", "value": -7}, "value": -4}, "title": null}},
       "y": {"field": "y", "type": "quantitative", "axis": {"orient": "right", "values": [0,0.1,0.2,0.3,0.4,0.5,0.6,0.7,0.8], "labels": false, "tickSize": {"condition": {"test": "round(datum.value*10)%2===0", "value": -7}, "value": -4}, "title": null}}
     }}
  ],
  "resolve": {"axis": {"x": "independent", "y": "independent"}}
}
]
}
